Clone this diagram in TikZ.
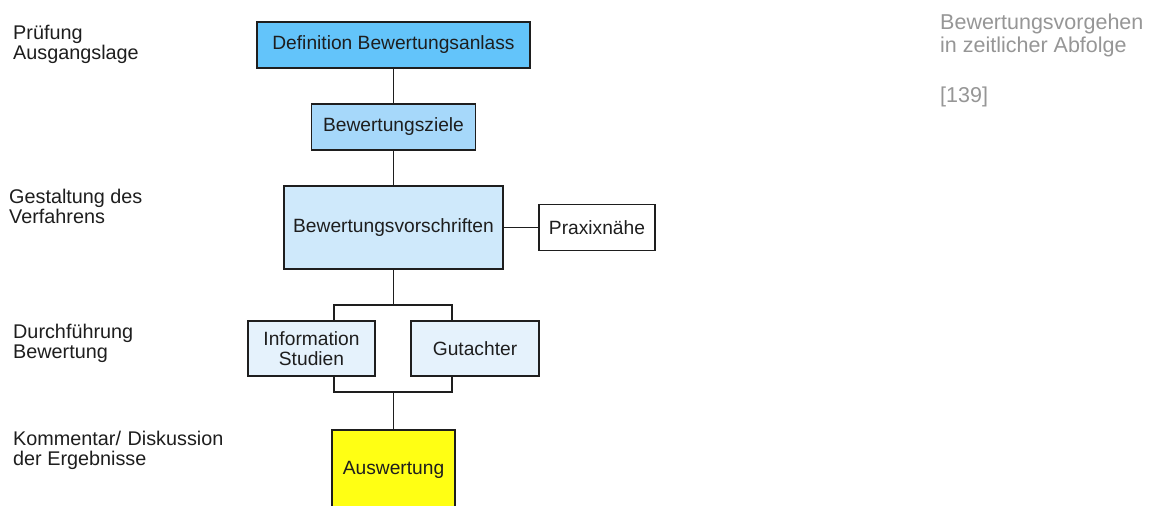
\documentclass[tikz,border=0pt]{standalone}
\usepackage{fontspec}
\setmainfont{Liberation Sans}
\definecolor{cA}{RGB}{99,196,250}
\definecolor{cB}{RGB}{166,216,250}
\definecolor{cC}{RGB}{207,233,251}
\definecolor{cD}{RGB}{229,242,252}
\definecolor{cY}{RGB}{255,255,20}
\definecolor{cG}{RGB}{150,150,150}
\definecolor{cT}{RGB}{30,30,30}
\begin{document}
\begin{tikzpicture}[x=1pt,y=-1pt,
  box/.style={draw=cT, line width=1.4pt, text=cT, inner sep=0pt, align=center,
    font=\fontsize{19.2}{20.5}\selectfont},
  lbl/.style={anchor=north west, align=left, inner sep=0pt, text=cT,
    font=\fontsize{19.8}{20}\selectfont},
  conn/.style={draw=cT, line width=1.4pt}]
\useasboundingbox (0,0) rectangle (1157,506);
\clip (0,0) rectangle (1157,506);
\fill[white] (0,0) rectangle (1157,506);
% boxes
\node[box, fill=cA, minimum width=273, minimum height=46] (def) at (393.5,45) {Definition Bewertungsanlass};
\node[box, fill=cB, minimum width=164, minimum height=46] (ziele) at (393.5,127) {Bewertungsziele};
\node[box, fill=cC, minimum width=219, minimum height=83] (vor) at (393.5,227.5) {Bewertungsvorschriften};
\node[box, fill=white, minimum width=116, minimum height=46] (prax) at (597,227.5) {Praxixnähe};
\node[box, fill=cD, minimum width=127, minimum height=55] (info) at (311.5,348.5) {Information\\Studien};
\node[box, fill=cD, minimum width=128, minimum height=55] (gut) at (475,348.5) {Gutachter};
\node[box, fill=cY, minimum width=123, minimum height=80] (ausw) at (393.5,470) {Auswertung};
% junctions
\coordinate (top) at (393.5,305);
\coordinate (bot) at (393.5,392);
% connectors
\draw[conn] (def.south) -- (ziele.north);
\draw[conn] (ziele.south) -- (vor.north);
\draw[conn] (vor.east) -- (prax.west);
\draw[conn] (vor.south) -- (top);
\draw[conn] (info.north -| 334,0) |- (top) -| (gut.north -| 452,0);
\draw[conn] (info.south -| 334,0) |- (bot) -| (gut.south -| 452,0);
\draw[conn] (bot) -- (ausw.north);
% left labels
\node[lbl] (l1) at (13,25) {Prüfung\\Ausgangslage};
\node[lbl] (l2) at (9,189) {Gestaltung des\\Verfahrens};
\node[lbl] (l3) at (13,324) {Durchführung\\Bewertung};
\node[lbl] (l4) at (13,431) {Kommentar/\,\,Diskussion\\der Ergebnisse};
% right caption
\node[lbl, text=cG, font=\fontsize{21.5}{22.5}\selectfont] (cap) at (940,14) {Bewertungsvorgehen\\in zeitlicher Abfolge};
\node[lbl, text=cG, font=\fontsize{21.5}{22.5}\selectfont] (ref) at (940,87) {[139]};
\end{tikzpicture}
\end{document}
